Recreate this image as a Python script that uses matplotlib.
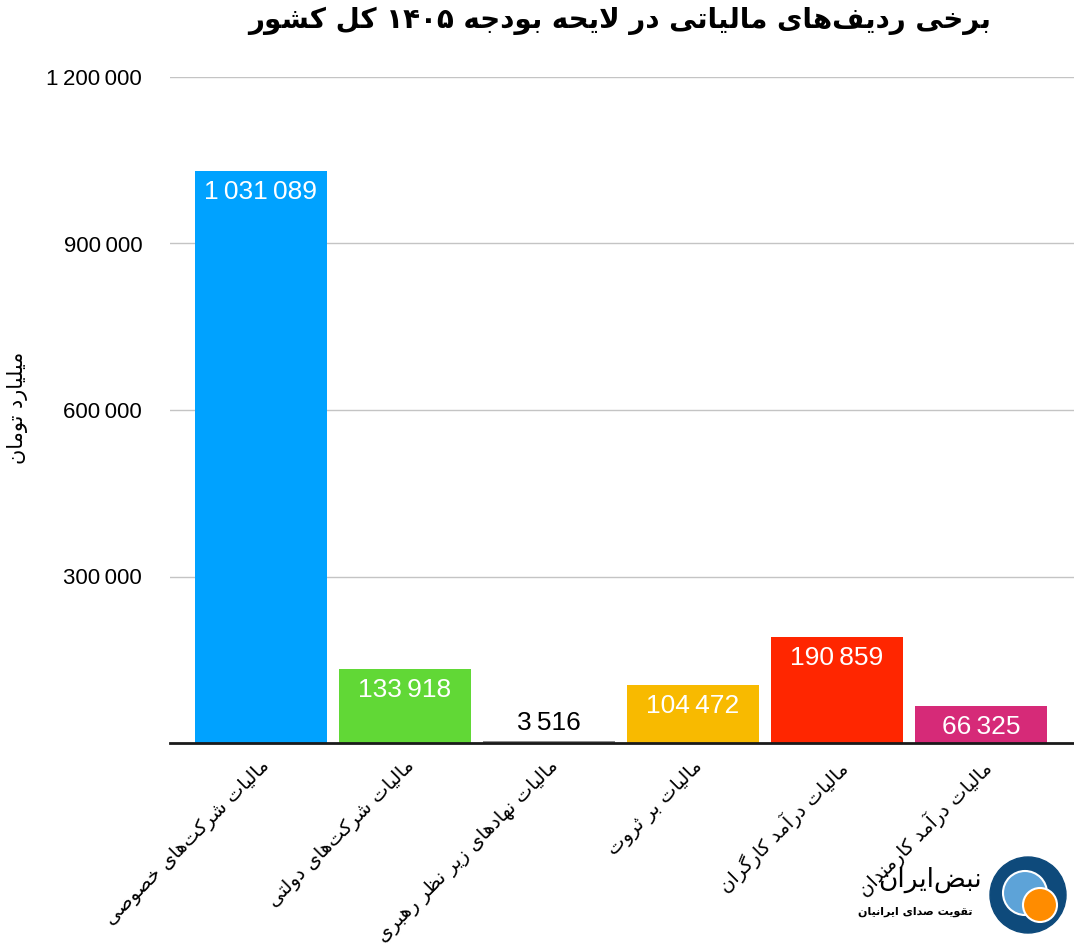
import re
import matplotlib
matplotlib.use('Agg')
import matplotlib.pyplot as plt
from matplotlib.patches import Circle

# Persian letters -> presentation forms (isolated, final, initial, medial)
FORMS = {
    'ا': (0xFE8D, 0xFE8E), 'آ': (0xFE81, 0xFE82),
    'ب': (0xFE8F, 0xFE90, 0xFE91, 0xFE92), 'پ': (0xFB56, 0xFB57, 0xFB58, 0xFB59),
    'ت': (0xFE95, 0xFE96, 0xFE97, 0xFE98), 'ث': (0xFE99, 0xFE9A, 0xFE9B, 0xFE9C),
    'ج': (0xFE9D, 0xFE9E, 0xFE9F, 0xFEA0), 'چ': (0xFB7A, 0xFB7B, 0xFB7C, 0xFB7D),
    'ح': (0xFEA1, 0xFEA2, 0xFEA3, 0xFEA4), 'خ': (0xFEA5, 0xFEA6, 0xFEA7, 0xFEA8),
    'د': (0xFEA9, 0xFEAA), 'ذ': (0xFEAB, 0xFEAC), 'ر': (0xFEAD, 0xFEAE),
    'ز': (0xFEAF, 0xFEB0), 'ژ': (0xFB8A, 0xFB8B),
    'س': (0xFEB1, 0xFEB2, 0xFEB3, 0xFEB4), 'ش': (0xFEB5, 0xFEB6, 0xFEB7, 0xFEB8),
    'ص': (0xFEB9, 0xFEBA, 0xFEBB, 0xFEBC), 'ض': (0xFEBD, 0xFEBE, 0xFEBF, 0xFEC0),
    'ط': (0xFEC1, 0xFEC2, 0xFEC3, 0xFEC4), 'ظ': (0xFEC5, 0xFEC6, 0xFEC7, 0xFEC8),
    'ع': (0xFEC9, 0xFECA, 0xFECB, 0xFECC), 'غ': (0xFECD, 0xFECE, 0xFECF, 0xFED0),
    'ف': (0xFED1, 0xFED2, 0xFED3, 0xFED4), 'ق': (0xFED5, 0xFED6, 0xFED7, 0xFED8),
    'ک': (0xFB8E, 0xFB8F, 0xFB90, 0xFB91), 'گ': (0xFB92, 0xFB93, 0xFB94, 0xFB95),
    'ل': (0xFEDD, 0xFEDE, 0xFEDF, 0xFEE0), 'م': (0xFEE1, 0xFEE2, 0xFEE3, 0xFEE4),
    'ن': (0xFEE5, 0xFEE6, 0xFEE7, 0xFEE8), 'ه': (0xFEE9, 0xFEEA, 0xFEEB, 0xFEEC),
    'و': (0xFEED, 0xFEEE), 'ی': (0xFBFC, 0xFBFD, 0xFBFE, 0xFBFF),
}
LAM_ALEF = {'ا': (0xFEFB, 0xFEFC), 'آ': (0xFEF5, 0xFEF6)}


def fa(text):
    # join letters and put them in visual (left-to-right) order
    res = []
    i = 0
    n = len(text)
    while i < n:
        c = text[i]
        if c not in FORMS:
            res.append(c)
            i += 1
            continue
        prev = text[i - 1] if i > 0 else None
        prev_joins = prev is not None and prev in FORMS and len(FORMS[prev]) == 4
        if c == 'ل' and i + 1 < n and text[i + 1] in LAM_ALEF:
            lig = LAM_ALEF[text[i + 1]]
            res.append(chr(lig[1] if prev_joins else lig[0]))
            i += 2
            continue
        nxt = text[i + 1] if i + 1 < n else None
        next_joins = len(FORMS[c]) == 4 and nxt is not None and nxt in FORMS
        f = FORMS[c]
        if prev_joins and next_joins:
            res.append(chr(f[3]))
        elif prev_joins:
            res.append(chr(f[1]))
        elif next_joins:
            res.append(chr(f[2]))
        else:
            res.append(chr(f[0]))
        i += 1
    s = ''.join(ch for ch in res if ch != '\u200c')
    tokens = re.findall(r'[0-9\u06F0-\u06F9]+|[^0-9\u06F0-\u06F9]', s)
    return ''.join(reversed(tokens))


# data
categories = [
    'مالیات شرکت‌های خصوصی',
    'مالیات شرکت‌های دولتی',
    'مالیات نهادهای زیر نظر رهبری',
    'مالیات بر ثروت',
    'مالیات درآمد کارگران',
    'مالیات درآمد کارمندان',
]
values = [1031089, 133918, 3516, 104472, 190859, 66325]
colors = ['#00A2FF', '#61D836', '#8E8E8E', '#F8BA00', '#FF2600', '#D62A78']
yticks = [0, 300000, 600000, 900000, 1200000]

title = 'برخی ردیف‌های مالیاتی در لایحه بودجه ۱۴۰۵ کل کشور'
ylabel = 'میلیارد تومان'

num_font = ['Liberation Sans', 'DejaVu Sans']


def fmt(v):
    return f'{v:,}'.replace(',', '\u2009')


fig = plt.figure(figsize=(10.74, 9.49), dpi=100)
ax = fig.add_axes([170 / 1074, 1 - 743 / 949, 1 - 170 / 1074, (743 - 77) / 949])

x = list(range(len(values)))
ax.bar(x, values, width=0.917, color=colors, zorder=2)
ax.set_xlim(-0.63, 5.646)
ax.set_ylim(0, 1200000)

ax.set_yticks(yticks[1:])
ax.set_yticklabels([fmt(v) for v in yticks[1:]], fontsize=16, family=num_font)
ax.tick_params(axis='y', length=0, pad=20)
ax.yaxis.grid(True, color='#C4C4C4', linewidth=1)
ax.set_axisbelow(True)

ax.set_xticks(x)
ax.set_xticklabels([fa(c) for c in categories], rotation=45, ha='right',
                   va='top', rotation_mode='anchor', fontsize=14, family='DejaVu Sans')
ax.tick_params(axis='x', length=0, pad=10)

for s in ['top', 'right', 'left']:
    ax.spines[s].set_visible(False)
ax.spines['bottom'].set_linewidth(2)
ax.spines['bottom'].set_color('#1a1a1a')
ax.spines['bottom'].set_zorder(3)

# value labels
for xi, v in zip(x, values):
    if v > 40000:
        ax.annotate(fmt(v), (xi, v), xytext=(0, -15), textcoords='offset points',
                    ha='center', va='center', color='white', fontsize=19, family=num_font)
    else:
        ax.annotate(fmt(v), (xi, v), xytext=(0, 13), textcoords='offset points',
                    ha='center', va='center', color='black', fontsize=19, family=num_font)

fig.text(620 / 1074, 1 - 21 / 949, fa(title), ha='center', va='center',
         fontsize=20, fontweight='bold', family='DejaVu Sans')
fig.text(18 / 1074, 1 - 408 / 949, fa(ylabel), ha='center', va='center',
         rotation=90, fontsize=15, family='DejaVu Sans')

# logo
lg = fig.add_axes([0, 0, 1, 1], zorder=5)
lg.set_xlim(0, 1074)
lg.set_ylim(949, 0)
lg.axis('off')
lg.patch.set_alpha(0)
lg.add_patch(Circle((1028, 895), 38, color='#0E4A7B'))
lg.add_patch(Circle((1025, 893), 22, facecolor='#5DA3D8', edgecolor='white', linewidth=1.5))
lg.add_patch(Circle((1040, 905), 17, facecolor='#FF8C00', edgecolor='white', linewidth=1.5))
lg.text(982, 880, fa('نبض‌ایران'), ha='right', va='center', fontsize=19, family='DejaVu Sans')
lg.text(973, 912, fa('تقویت صدای ایرانیان'), ha='right', va='center', fontsize=8,
        fontweight='bold', family='DejaVu Sans')

fig.savefig('out.png', dpi=100)
